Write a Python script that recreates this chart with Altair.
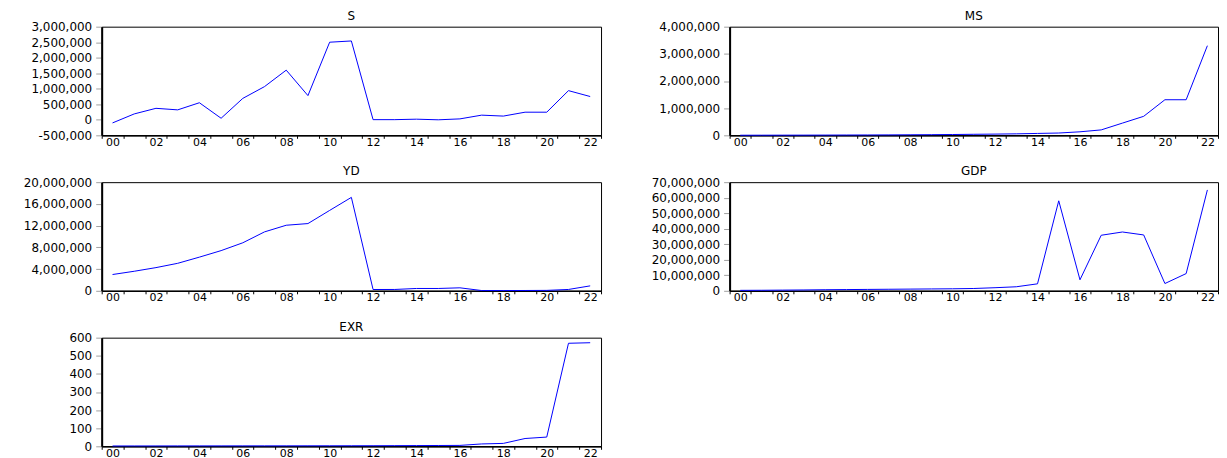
import altair as alt
import pandas as pd

years = list(range(2000, 2023))

S = [-100000, 190000, 370000, 320000, 550000, 50000, 690000, 1070000, 1600000, 780000,
     2500000, 2540000, 5000, 5000, 20000, 0, 30000, 150000, 120000, 245000,
     245000, 940000, 750000]
MS = [4000, 5000, 6000, 7000, 9000, 11000, 13000, 16000, 20000, 24000,
      30000, 38000, 45000, 55000, 70000, 85000, 130000, 200000, 450000, 700000,
      1310000, 1310000, 3300000]
YD = [3000000, 3600000, 4270000, 5060000, 6200000, 7400000, 8840000, 10850000, 12070000, 12380000,
      14800000, 17200000, 240000, 250000, 430000, 430000, 550000, 50000, 50000, 60000,
      80000, 250000, 910000]
GDP = [300000, 350000, 450000, 550000, 700000, 800000, 900000, 1000000, 1100000, 1200000,
       1300000, 1500000, 2000000, 2600000, 4500000, 58000000, 7100000, 35800000, 37900000, 36000000,
       4700000, 11100000, 65000000]
EXR = [1.8, 1.9, 2.0, 2.1, 2.2, 2.3, 2.4, 2.5, 2.6, 2.7,
       2.8, 3.0, 3.2, 3.6, 4.0, 4.5, 5.0, 13.0, 16.0, 43.0,
       51.0, 569.0, 572.0]

S_ticks = [-500000, 0, 500000, 1000000, 1500000, 2000000, 2500000, 3000000]
MS_ticks = [0, 1000000, 2000000, 3000000, 4000000]
YD_ticks = [0, 4000000, 8000000, 12000000, 16000000, 20000000]
GDP_ticks = [0, 10000000, 20000000, 30000000, 40000000, 50000000, 60000000, 70000000]
EXR_ticks = [0, 100, 200, 300, 400, 500, 600]

year_bounds = [1999.5 + i for i in range(24)]

FONT = "DejaVu Sans"
H = 109


def panel(name, values, yticks, width):
    df = pd.DataFrame({"year": years, "value": values})
    half = width / 23 / 2
    return alt.Chart(
        df,
        title=alt.TitleParams(name, font=FONT, fontSize=12, fontWeight="normal",
                              color="black", anchor="middle", frame="group", offset=-2),
    ).mark_line(color="#0000ff", strokeWidth=1).encode(
        x=alt.X("year:Q",
                scale=alt.Scale(domain=[1999.5, 2022.5], nice=False, zero=False),
                axis=alt.Axis(values=year_bounds, title=None, grid=False,
                              labelExpr="(datum.value - 0.5) % 2 == 0 ? format((datum.value - 0.5) % 100, '02d') : ''",
                              labelOffset=-half, labelOverlap=False, labelFlush=False,
                              labelPadding=-2, tickSize=3, tickColor="black", tickWidth=1,
                              domainColor="black", domainWidth=1.5,
                              labelFont=FONT, labelFontSize=11, labelColor="black",
                              minExtent=13, maxExtent=13)),
        y=alt.Y("value:Q",
                scale=alt.Scale(domain=[yticks[0], yticks[-1]], nice=False, zero=False),
                axis=alt.Axis(values=yticks, title=None, grid=False,
                              labelExpr="datum.value < 0 ? '-' + format(-datum.value, ',d') : format(datum.value, ',d')",
                              labelOverlap=False, labelFlush=False,
                              tickSize=6, tickColor="#a0a0a0", tickWidth=1, labelPadding=4,
                              domainColor="black", domainWidth=2,
                              labelFont=FONT, labelFontSize=12, labelColor="black",
                              minExtent=93, maxExtent=93)),
    ).properties(width=width, height=H)


chart = alt.concat(
    panel("S", S, S_ticks, 501),
    panel("MS", MS, MS_ticks, 490),
    panel("YD", YD, YD_ticks, 501),
    panel("GDP", GDP, GDP_ticks, 490),
    panel("EXR", EXR, EXR_ticks, 501),
    columns=2,
    spacing={"row": 15, "column": 34},
).properties(padding=0, background="white").configure_view(
    stroke="black", strokeWidth=1
)

chart.save("out.html", embed_options={"renderer": "svg", "actions": False})
